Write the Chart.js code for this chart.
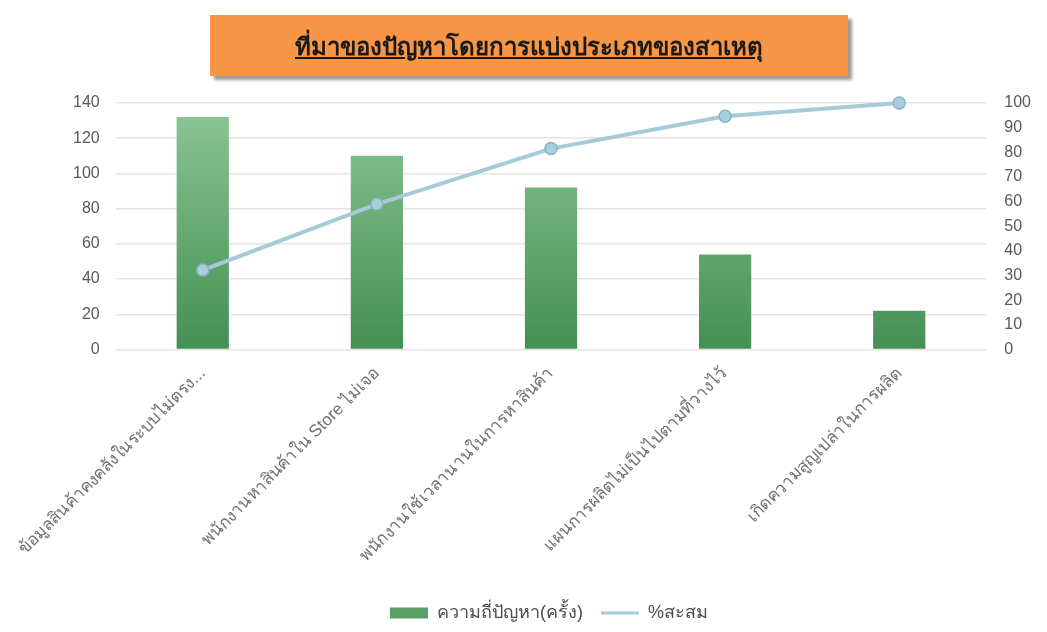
<!DOCTYPE html>
<html>

<head>
  <meta charset="utf-8">
  <title>Pareto</title>
  <script src="https://cdn.jsdelivr.net/npm/chart.js@4/dist/chart.umd.min.js"></script>
  <style>
    body {
      margin: 0;
      background: #fff;
      font-family: "Noto Sans", "DejaVu Sans", sans-serif;
    }

    #wrap {
      position: relative;
      width: 1047px;
      height: 632px;
    }

    /* orange title box on top of the chart */
    #title {
      position: absolute;
      left: 210px;
      top: 15px;
      width: 638px;
      height: 61px;
      background: #f79646;
      box-shadow: 4px 4px 3px #9a9a9a;
      text-align: center;
      line-height: 61px;
      font-size: 24px;
      font-weight: bold;
      text-decoration: underline;
      color: #1a1a1a;
    }
  </style>
</head>

<body>
  <div id="wrap">
    <canvas id="canvas" width="1047" height="632"></canvas>
    <div id="title">ที่มาของปัญหาโดยการแบ่งประเภทของสาเหตุ</div>
  </div>

  <script>
    // categories (first one is cut off in the original too)
    const causes = [
      'ข้อมูลสินค้าคงคลังในระบบไม่ตรง...',
      'พนักงานหาสินค้าใน Store ไม่เจอ',
      'พนักงานใช้เวลานานในการหาสินค้า',
      'แผนการผลิตไม่เป็นไปตามที่วางไว้',
      'เกิดความสูญเปล่าในการผลิต'
    ];

    // frequency of each problem (times)
    const counts = [132, 110, 92, 54, 22];

    // cumulative percent
    const cumPercent = [32.2, 59.0, 81.5, 94.6, 100];

    const ctx = document.getElementById('canvas');

    // bar fill: light green at the top, darker at the bottom
    function barFill(c) {
      const area = c.chart.chartArea;
      if (!area) return '#5fa86b';
      const g = c.chart.ctx.createLinearGradient(0, area.top, 0, area.bottom);
      g.addColorStop(0, '#8cc794');
      g.addColorStop(1, '#458f53');
      return g;
    }

    new Chart(ctx, {
      data: {
        labels: causes,
        datasets: [{
          type: 'line',
          label: '%สะสม',
          data: cumPercent,
          yAxisID: 'y2',
          borderColor: '#a5cbd9',
          backgroundColor: '#a5cbd9',
          borderWidth: 4,
          pointRadius: 6,
          pointBackgroundColor: '#a9cfdd',
          pointBorderColor: '#86b3c6',
          pointBorderWidth: 1.5,
          pointStyle: 'circle',
          clip: false,
          order: 0
        }, {
          type: 'bar',
          label: 'ความถี่ปัญหา(ครั้ง)',
          data: counts,
          yAxisID: 'y',
          backgroundColor: barFill,
          barPercentage: 0.3,
          categoryPercentage: 1,
          order: 1
        }]
      },
      options: {
        responsive: false,
        animation: false,
        layout: {
          padding: { top: 103, left: 57, right: 6, bottom: 0 }
        },
        plugins: {
          title: { display: false },
          tooltip: { enabled: false },
          legend: {
            position: 'bottom',
            reverse: true,
            labels: {
              usePointStyle: true,
              pointStyleWidth: 38,
              boxHeight: 11,
              padding: 18,
              color: '#4d4d4d',
              font: { size: 18, lineHeight: 1 },
              generateLabels: function (chart) {
                const items = Chart.defaults.plugins.legend.labels.generateLabels(chart);
                items.forEach(function (it) {
                  if (it.datasetIndex === 1) {
                    it.pointStyle = 'rect';
                    it.fillStyle = '#5a9f66';
                    it.strokeStyle = '#5a9f66';
                  } else {
                    it.pointStyle = 'line';
                    it.strokeStyle = '#a5cbd9';
                    it.lineWidth = 3;
                  }
                });
                return items;
              }
            }
          }
        },
        scales: {
          x: {
            grid: { display: false },
            border: { display: false },
            // leave a gap between the rotated labels and the legend
            afterFit: function (scale) {
              scale.height += 14;
            },
            ticks: {
              minRotation: 45,
              maxRotation: 45,
              color: '#707070',
              font: { size: 17 },
              padding: 6
            }
          },
          y: {
            position: 'left',
            min: 0,
            max: 140,
            ticks: { stepSize: 20, color: '#595959', font: { size: 16 }, padding: 16 },
            grid: { color: '#e4e4e4', lineWidth: 1.5, drawTicks: false },
            border: { display: false }
          },
          y2: {
            position: 'right',
            min: 0,
            max: 100,
            ticks: { stepSize: 10, color: '#595959', font: { size: 16 }, padding: 10 },
            grid: { display: false },
            border: { display: false }
          }
        }
      }
    });
  </script>
</body>

</html>
